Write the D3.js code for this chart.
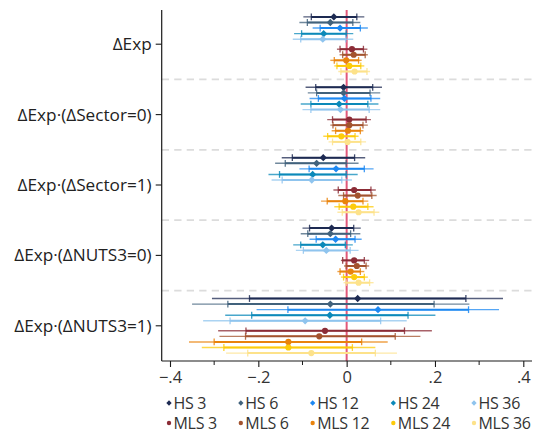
<!DOCTYPE html>
<html>
<head>
<meta charset="utf-8">
<script src="https://cdn.jsdelivr.net/npm/d3@7"></script>
<style>
  html, body { margin: 0; padding: 0; background: #fff; }
  svg { display: block; font-family: "Open Sans", "Noto Sans", sans-serif; }
</style>
</head>
<body>
<svg id="chart" width="540" height="439"></svg>
<script>
// Coefficient categories (top to bottom)
const categories = ["ΔExp", "ΔExp·(ΔSector=0)", "ΔExp·(ΔSector=1)", "ΔExp·(ΔNUTS3=0)", "ΔExp·(ΔNUTS3=1)"];
const seriesNames = ["HS 3", "HS 6", "HS 12", "HS 24", "HS 36", "MLS 3", "MLS 6", "MLS 12", "MLS 24", "MLS 36"];
const seriesColors = ["#1d2a52", "#41627c", "#1c88f2", "#0b89b9", "#8fc4ee", "#8b2c36", "#a3532e", "#e9830c", "#fdcb0a", "#fde28a"];
const majorTicks = [-0.4, -0.2, 0, 0.2, 0.4];
const minorTicks = [-0.3, -0.1, 0.1, 0.3];

// Per series, one row per category: [estimate, lo95, hi95, lo90, hi90]
const HS3 = [
  [-0.029, -0.098, 0.040, -0.080, 0.023],
  [-0.007, -0.093, 0.080, -0.070, 0.059],
  [-0.053, -0.147, 0.042, -0.123, 0.018],
  [-0.034, -0.100, 0.032, -0.084, 0.016],
  [ 0.025, -0.305, 0.354, -0.220, 0.270]
];
const HS6 = [
  [-0.037, -0.107, 0.031, -0.089, 0.014],
  [-0.007, -0.088, 0.076, -0.068, 0.053],
  [-0.068, -0.162, 0.027, -0.139, -0.001],
  [-0.037, -0.104, 0.031, -0.088, 0.009],
  [-0.037, -0.350, 0.278, -0.269, 0.198]
];
const HS12 = [
  [-0.015, -0.077, 0.048, -0.060, 0.031],
  [-0.005, -0.084, 0.076, -0.064, 0.055],
  [-0.024, -0.107, 0.061, -0.085, 0.040],
  [-0.025, -0.084, 0.034, -0.069, 0.019],
  [ 0.071, -0.204, 0.345, -0.133, 0.276]
];
const HS24 = [
  [-0.052, -0.119, 0.015, -0.102, -0.001],
  [-0.017, -0.104, 0.072, -0.081, 0.048],
  [-0.077, -0.177, 0.025, -0.152, -0.001],
  [-0.054, -0.121, 0.014, -0.104, -0.003],
  [-0.038, -0.275, 0.201, -0.215, 0.139]
];
const HS36 = [
  [-0.054, -0.122, 0.015, -0.104, -0.002],
  [-0.014, -0.100, 0.076, -0.081, 0.051],
  [-0.079, -0.170, 0.012, -0.146, -0.011],
  [-0.046, -0.115, 0.027, -0.098, 0.008],
  [-0.094, -0.325, 0.136, -0.264, 0.077]
];
const MLS3 = [
  [ 0.012, -0.022, 0.047, -0.015, 0.038],
  [ 0.006, -0.044, 0.055, -0.032, 0.044],
  [ 0.017, -0.030, 0.066, -0.019, 0.055],
  [ 0.017, -0.013, 0.051, -0.009, 0.040],
  [-0.049, -0.291, 0.193, -0.228, 0.131]
];
const MLS6 = [
  [ 0.016, -0.016, 0.048, -0.009, 0.042],
  [ 0.006, -0.037, 0.048, -0.031, 0.037],
  [ 0.025, -0.019, 0.068, -0.007, 0.057],
  [ 0.023, -0.006, 0.051, -0.001, 0.044],
  [-0.062, -0.288, 0.167, -0.229, 0.110]
];
const MLS12 = [
  [-0.001, -0.037, 0.034, -0.028, 0.027],
  [ 0.003, -0.034, 0.038, -0.025, 0.031],
  [-0.003, -0.058, 0.049, -0.044, 0.037],
  [ 0.009, -0.021, 0.040, -0.015, 0.031],
  [-0.132, -0.357, 0.093, -0.300, 0.034]
];
const MLS24 = [
  [ 0.006, -0.028, 0.040, -0.022, 0.032],
  [-0.012, -0.053, 0.027, -0.043, 0.019],
  [ 0.015, -0.028, 0.061, -0.017, 0.048],
  [ 0.017, -0.013, 0.048, -0.007, 0.040],
  [-0.132, -0.328, 0.065, -0.278, 0.013]
];
const MLS36 = [
  [ 0.018, -0.019, 0.053, -0.013, 0.046],
  [ 0.002, -0.041, 0.044, -0.032, 0.032],
  [ 0.027, -0.021, 0.074, -0.010, 0.062],
  [ 0.027, -0.007, 0.061, -0.001, 0.052],
  [-0.080, -0.273, 0.114, -0.224, 0.065]
];
const seriesData = [HS3, HS6, HS12, HS24, HS36, MLS3, MLS6, MLS12, MLS24, MLS36];

// Layout
const plotLeft = 161.7, plotRight = 532, plotTop = 9, plotBottom = 361;
const svg = d3.select("#chart");

const x = d3.scaleLinear().domain([-0.4, 0.4]).range([170, 523.3]);
const y = d3.scaleLinear().domain([0.5, categories.length + 0.5]).range([plotTop, plotBottom]);

// Vertical offset (px) of each series row inside its category band
const rowOffset = i => (i < 5 ? -(5 + (4 - i) * 5.57) : (5 + (i - 5) * 5.57));

// Dashed separators between categories
svg.append("g").selectAll("line")
  .data(d3.range(1, categories.length))
  .join("line")
  .attr("x1", plotLeft).attr("x2", plotRight)
  .attr("y1", d => y(d + 0.5)).attr("y2", d => y(d + 0.5))
  .attr("stroke", "#dcdcdc").attr("stroke-width", 1.8)
  .attr("stroke-dasharray", "7.3,5.2");

// Reference line at zero
svg.append("line")
  .attr("x1", x(0)).attr("x2", x(0))
  .attr("y1", plotTop + 1).attr("y2", plotBottom)
  .attr("stroke", "#e2587a").attr("stroke-width", 2);

// Series marks
const marks = svg.append("g");
seriesData.forEach((rows, si) => {
  const g = marks.append("g");
  const color = seriesColors[si];
  const off = rowOffset(si);
  const rowData = rows.map((r, ci) => ({ b: r[0], lo95: r[1], hi95: r[2], lo90: r[3], hi90: r[4], yy: y(ci + 1) + off }));

  // 95% interval
  g.selectAll("line.ci95").data(rowData).join("line")
    .attr("class", "ci95")
    .attr("x1", d => x(d.lo95)).attr("x2", d => x(d.hi95))
    .attr("y1", d => d.yy).attr("y2", d => d.yy)
    .attr("stroke", color).attr("stroke-width", 1.4).attr("stroke-opacity", 0.75);

  // 90% interval
  g.selectAll("line.ci90").data(rowData).join("line")
    .attr("class", "ci90")
    .attr("x1", d => x(d.lo90)).attr("x2", d => x(d.hi90))
    .attr("y1", d => d.yy).attr("y2", d => d.yy)
    .attr("stroke", color).attr("stroke-width", 2);

  // caps at 90% bounds
  const caps = rowData.flatMap(d => [{ v: d.lo90, yy: d.yy }, { v: d.hi90, yy: d.yy }]);
  g.selectAll("line.cap").data(caps).join("line")
    .attr("class", "cap")
    .attr("x1", d => x(d.v)).attr("x2", d => x(d.v))
    .attr("y1", d => d.yy - 3.4).attr("y2", d => d.yy + 3.4)
    .attr("stroke", color).attr("stroke-width", 1.3).attr("stroke-opacity", 0.85);

  // point estimates
  const sym = d3.symbol().type(si < 5 ? d3.symbolDiamond2 : d3.symbolCircle).size(si < 5 ? 34 : 30);
  g.selectAll("path.pt").data(rowData).join("path")
    .attr("class", "pt")
    .attr("d", sym)
    .attr("transform", d => `translate(${x(d.b)},${d.yy})`)
    .attr("fill", color);
});

// Y axis
svg.append("line")
  .attr("x1", plotLeft).attr("x2", plotLeft)
  .attr("y1", plotTop + 1).attr("y2", plotBottom)
  .attr("stroke", "#1a1a1a").attr("stroke-width", 1.2);
const yAxisG = svg.append("g");
yAxisG.selectAll("line").data(categories).join("line")
  .attr("x1", plotLeft - 6).attr("x2", plotLeft)
  .attr("y1", (d, i) => y(i + 1)).attr("y2", (d, i) => y(i + 1))
  .attr("stroke", "#1a1a1a").attr("stroke-width", 1.1);
yAxisG.selectAll("text").data(categories).join("text")
  .attr("x", plotLeft - 10).attr("y", (d, i) => y(i + 1))
  .attr("dy", "0.35em").attr("text-anchor", "end")
  .attr("font-size", 17.2).attr("fill", "#222")
  .text(d => d);

// X axis
const fmt = v => (v === 0 ? "0" : d3.format(".1f")(v).replace("0.", "."));
const xAxis = d3.axisBottom(x).tickValues(majorTicks).tickFormat(fmt).tickSize(6).tickPadding(4);
const xAxisG = svg.append("g").attr("transform", `translate(0,${plotBottom})`).call(xAxis);
xAxisG.select(".domain").remove();
xAxisG.selectAll(".tick line").attr("stroke", "#1a1a1a").attr("stroke-width", 1.1);
xAxisG.selectAll(".tick text").attr("font-size", 16.5).attr("fill", "#333")
  .attr("font-family", "'Open Sans', sans-serif");
xAxisG.selectAll("line.minor").data(minorTicks).join("line")
  .attr("class", "minor")
  .attr("x1", d => x(d)).attr("x2", d => x(d))
  .attr("y1", 0).attr("y2", 4)
  .attr("stroke", "#1a1a1a").attr("stroke-width", 1);
xAxisG.append("line")
  .attr("x1", plotLeft).attr("x2", plotRight)
  .attr("y1", 0).attr("y2", 0)
  .attr("stroke", "#1a1a1a").attr("stroke-width", 1.2);

// Legend: 2 rows x 5 columns, column widths from the widest label
const legend = svg.append("g");
const legendRows = [403, 423];
const nCols = 5;
const legendFont = 16;
const measure = legend.append("text").attr("font-size", legendFont)
  .attr("letter-spacing", -0.3).attr("visibility", "hidden");
const colWidths = d3.range(nCols).map(c => d3.max([c, c + nCols], i => {
  measure.text(seriesNames[i]);
  return measure.node().getComputedTextLength();
}));
measure.remove();
const colX = [];
let cx = 169;
for (let c = 0; c < nCols; c++) { colX.push(cx); cx += 4.5 + colWidths[c] + 24; }

seriesNames.forEach((name, i) => {
  const c = i % nCols, r = Math.floor(i / nCols);
  const gx = colX[c], gy = legendRows[r];
  legend.append("path")
    .attr("d", d3.symbol().type(i < 5 ? d3.symbolDiamond2 : d3.symbolCircle).size(i < 5 ? 18 : 15)())
    .attr("transform", `translate(${gx},${gy})`)
    .attr("fill", seriesColors[i]);
  legend.append("text")
    .attr("x", gx + 4.5).attr("y", gy).attr("dy", "0.35em")
    .attr("font-size", legendFont).attr("letter-spacing", -0.3).attr("fill", "#333")
    .text(name);
});
</script>
</body>
</html>
